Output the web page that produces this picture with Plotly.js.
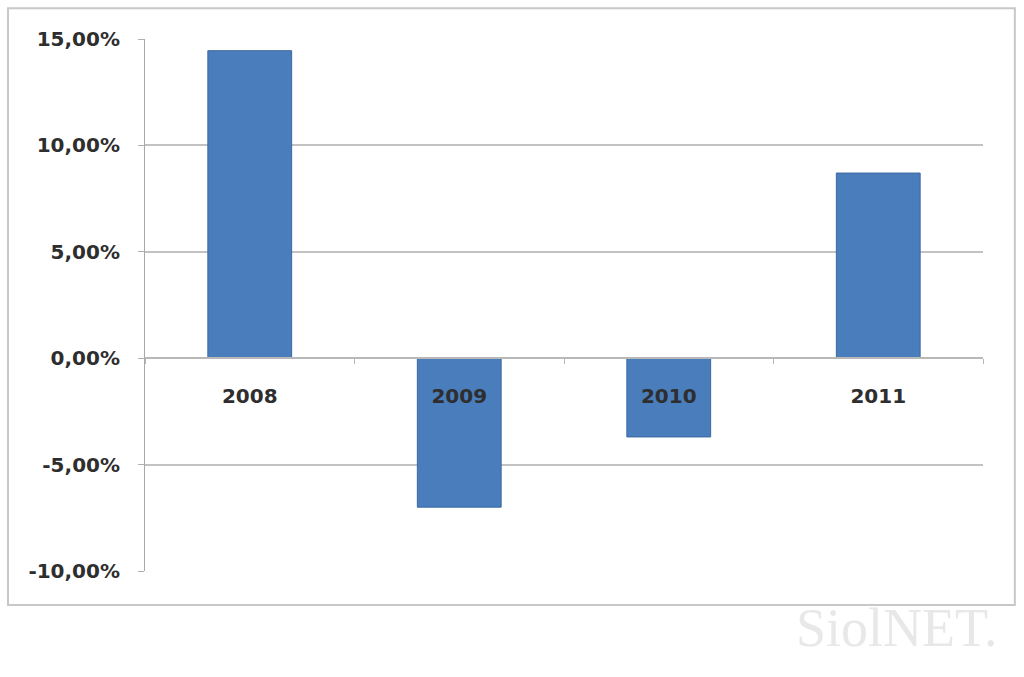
<!DOCTYPE html>
<html>
<head>
<meta charset="utf-8">
<script src="https://cdn.plot.ly/plotly-3.0.1.min.js"></script>
<style>html,body{margin:0;padding:0;background:#fff;}#chart{width:1024px;height:677px;}</style>
</head>
<body>
<div id="chart"></div>
<script>
const years = ['2008', '2009', '2010', '2011'];
const growth = [14.45, -7.0, -3.7, 8.7];
const yTickVals = [-10, -5, 0, 5, 10, 15];
const yTickText = ['-10,00%', '-5,00%', '0,00%', '5,00%', '10,00%', '15,00%'];

const yMin = -10, yMax = 15;
const zeroPos = (0 - yMin) / (yMax - yMin);

const trace = {
  type: 'bar',
  x: years,
  y: growth,
  width: 0.4,
  marker: {color: '#4a7dbb', line: {color: '#3a68a3', width: 1}},
  hoverinfo: 'x+y'
};

const labelFont = 'DejaVu Sans, Verdana, sans-serif';

const layout = {
  width: 1024, height: 677,
  margin: {l: 145, r: 41, t: 39, b: 106},
  paper_bgcolor: '#ffffff',
  plot_bgcolor: '#ffffff',
  showlegend: false,
  bargap: 0.6,
  font: {family: labelFont, color: '#333333'},
  xaxis: {
    type: 'category',
    anchor: 'free',
    position: zeroPos,
    showgrid: false,
    zeroline: false,
    showline: true,
    linecolor: '#b8b8b8',
    linewidth: 2,
    ticks: 'outside',
    tickson: 'boundaries',
    ticklen: 5,
    tickcolor: '#b8b8b8',
    ticklabelstandoff: 20,
    tickfont: {size: 20, color: '#2e2e2e', family: labelFont, weight: 'bold'},
    fixedrange: true
  },
  yaxis: {
    range: [yMin, yMax],
    tickvals: yTickVals,
    ticktext: yTickText,
    showgrid: true,
    gridcolor: '#c2c2c2',
    gridwidth: 2,
    zeroline: false,
    showline: true,
    linecolor: '#a8a8a8',
    linewidth: 1,
    ticks: 'outside',
    ticklen: 6,
    tickcolor: '#b0b0b0',
    ticklabelstandoff: 14,
    tickfont: {size: 20, color: '#2e2e2e', family: labelFont, weight: 'bold'},
    fixedrange: true
  },
  shapes: [{
    type: 'rect', xref: 'paper', yref: 'paper',
    x0: -0.1635, x1: 1.038, y0: -0.064, y1: 1.058,
    line: {color: '#c8c8c8', width: 2}, fillcolor: 'rgba(0,0,0,0)', layer: 'below'
  }],
  annotations: [{
    xref: 'paper', yref: 'paper', x: 0.897, y: -0.107,
    xanchor: 'center', yanchor: 'middle',
    text: 'SiolNET.', showarrow: false,
    font: {size: 54, color: '#e8e8e8', family: 'Liberation Serif, serif'}
  }]
};

Plotly.newPlot('chart', [trace], layout, {displayModeBar: false, staticPlot: true});
</script>
</body>
</html>
